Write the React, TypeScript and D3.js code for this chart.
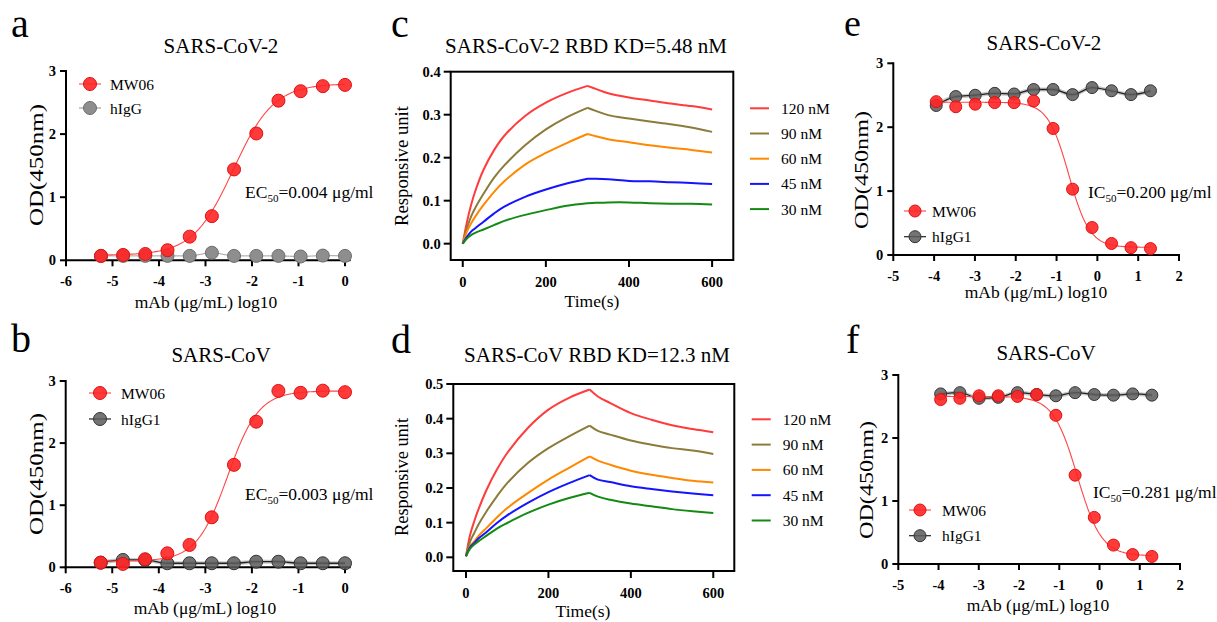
import React from 'react';
import * as d3 from 'd3';

const FONT = '"Liberation Serif", "Times New Roman", Times, serif';

// ---------- ELISA binding (a, b) ----------
const logConcAB = [-5.248, -4.771, -4.294, -3.817, -3.34, -2.863, -2.386, -1.908, -1.431, -0.954, -0.477, 0];
const aMW06 = [0.07, 0.085, 0.1, 0.16, 0.375, 0.7, 1.44, 2.01, 2.53, 2.68, 2.76, 2.78];
const aHIgG = [0.07, 0.07, 0.07, 0.07, 0.07, 0.12, 0.07, 0.07, 0.07, 0.06, 0.075, 0.07];
const bMW06 = [0.075, 0.055, 0.13, 0.225, 0.36, 0.805, 1.65, 2.345, 2.84, 2.81, 2.845, 2.82];
const bHIgG1 = [0.075, 0.118, 0.118, 0.065, 0.065, 0.065, 0.065, 0.09, 0.09, 0.065, 0.065, 0.065];
// 4PL fit parameters [bottom, top, logX50, hill]
const aFit = [0.08, 2.8, -2.4, 1.0];
const bFit = [0.1, 2.84, -2.52, 1.3];

// ---------- Competition (e, f) ----------
const logConcEF = [-3.948, -3.47, -2.993, -2.516, -2.039, -1.562, -1.085, -0.607, -0.13, 0.347, 0.824, 1.301];
const eMW06 = [2.4, 2.32, 2.36, 2.385, 2.385, 2.41, 1.98, 1.03, 0.43, 0.18, 0.115, 0.1];
const eHIgG1 = [2.34, 2.48, 2.5, 2.53, 2.52, 2.59, 2.59, 2.51, 2.62, 2.57, 2.51, 2.57];
const fMW06 = [2.61, 2.63, 2.67, 2.67, 2.66, 2.69, 2.36, 1.41, 0.74, 0.3, 0.15, 0.12];
const fHIgG1 = [2.7, 2.72, 2.63, 2.645, 2.72, 2.69, 2.67, 2.72, 2.69, 2.68, 2.7, 2.68];
const eFit = [0.12, 2.39, -0.7, 1.7];
const fFit = [0.13, 2.66, -0.551, 1.45];

const odTicks = [0, 1, 2, 3];
const abXTicks = [-6, -5, -4, -3, -2, -1, 0];
const efXTicks = [-5, -4, -3, -2, -1, 0, 1, 2];

// ---------- BLI sensorgrams (c, d) ----------
const bliTime = [0, 10, 20, 30, 50, 75, 100, 150, 200, 250, 300, 320, 350, 400, 450, 500, 550, 600];
const PEAK_INDEX = 10; // t = 300 s, switch from association to dissociation
const concLabels = ['120 nM', '90 nM', '60 nM', '45 nM', '30 nM'];
const concColors = ['#ff3b3b', '#8c7b3a', '#ff8800', '#1414ff', '#138a13'];
const c120 = [0, 0.05, 0.09, 0.122, 0.172, 0.217, 0.251, 0.297, 0.328, 0.35, 0.367, 0.36, 0.35, 0.34, 0.333, 0.326, 0.32, 0.312];
const c90 = [0, 0.036, 0.063, 0.083, 0.116, 0.153, 0.182, 0.229, 0.266, 0.294, 0.316, 0.309, 0.299, 0.291, 0.284, 0.278, 0.27, 0.26];
const c60 = [0, 0.028, 0.047, 0.063, 0.09, 0.12, 0.145, 0.184, 0.211, 0.234, 0.255, 0.25, 0.243, 0.236, 0.229, 0.223, 0.218, 0.212];
const c45 = [0, 0.016, 0.028, 0.036, 0.051, 0.07, 0.086, 0.109, 0.126, 0.14, 0.151, 0.151, 0.15, 0.146, 0.145, 0.143, 0.141, 0.139];
const c30 = [0, 0.012, 0.02, 0.025, 0.033, 0.043, 0.053, 0.067, 0.078, 0.088, 0.094, 0.095, 0.096, 0.096, 0.094, 0.093, 0.093, 0.091];
const d120 = [0.003, 0.065, 0.104, 0.1375, 0.195, 0.253, 0.301, 0.373, 0.426, 0.46, 0.484, 0.464, 0.445, 0.416, 0.397, 0.381, 0.37, 0.361];
const d90 = [0.003, 0.046, 0.07, 0.094, 0.133, 0.176, 0.214, 0.272, 0.315, 0.349, 0.38, 0.365, 0.354, 0.337, 0.325, 0.315, 0.308, 0.298];
const d60 = [0.003, 0.032, 0.046, 0.061, 0.085, 0.115, 0.142, 0.185, 0.224, 0.258, 0.291, 0.279, 0.267, 0.25, 0.238, 0.229, 0.221, 0.216];
const d45 = [0.003, 0.029, 0.041, 0.054, 0.073, 0.099, 0.121, 0.157, 0.188, 0.214, 0.237, 0.224, 0.217, 0.205, 0.197, 0.19, 0.184, 0.179];
const d30 = [0.003, 0.025, 0.037, 0.046, 0.0625, 0.083, 0.099, 0.128, 0.152, 0.171, 0.186, 0.175, 0.166, 0.155, 0.147, 0.139, 0.133, 0.128];
const cTicksY = [0, 0.1, 0.2, 0.3, 0.4];
const dTicksY = [0, 0.1, 0.2, 0.3, 0.4, 0.5];
const bliTicksX = [0, 200, 400, 600];

type Scale = d3.ScaleLinear<number, number>;

function fitPoints(p: number[], x0: number, x1: number, desc: boolean) {
  const [bottom, top, l50, hill] = p;
  const xs = d3.range(0, 201).map((i) => x0 + ((x1 - x0) * i) / 200);
  return xs.map((x) => {
    const e = desc ? (x - l50) * hill : (l50 - x) * hill;
    return [x, bottom + (top - bottom) / (1 + Math.pow(10, e))] as [number, number];
  });
}

const RED_FILL = '#ff2525';
const RED_STROKE = '#e01010';

function LAxes({ x, y, xTicks, yTicks, xEnd }: { x: Scale; y: Scale; xTicks: number[]; yTicks: number[]; xEnd: number }) {
  const x0 = x(xTicks[0]);
  const y0 = y(0);
  return (
    <g>
      <line x1={x0} x2={x(xEnd)} y1={y0} y2={y0} stroke="#000" strokeWidth={2} strokeLinecap="square" />
      <line x1={x0} x2={x0} y1={y0} y2={y(yTicks[yTicks.length - 1])} stroke="#000" strokeWidth={2} strokeLinecap="square" />
      {xTicks.map((t) => (
        <g key={'x' + t}>
          <line x1={x(t)} x2={x(t)} y1={y0} y2={y0 + 6} stroke="#000" strokeWidth={2} />
          <text x={x(t)} y={y0 + 26} textAnchor="middle" fontSize={14.5} fontWeight="bold" fontFamily={FONT}>
            {String(t)}
          </text>
        </g>
      ))}
      {yTicks.map((t) => (
        <g key={'y' + t}>
          <line x1={x0 - 6} x2={x0} y1={y(t)} y2={y(t)} stroke="#000" strokeWidth={2} />
          <text x={x0 - 10} y={y(t) + 5} textAnchor="end" fontSize={14.5} fontWeight="bold" fontFamily={FONT}>
            {String(t)}
          </text>
        </g>
      ))}
    </g>
  );
}

function Marker({ cx, cy, kind, r }: { cx: number; cy: number; kind: string; r: number }) {
  if (kind === 'red') return <circle cx={cx} cy={cy} r={r} fill={RED_FILL} fillOpacity={0.9} stroke={RED_STROKE} strokeWidth={1} />;
  if (kind === 'light') return <circle cx={cx} cy={cy} r={r} fill="#8e8e8e" stroke="#6c6c6c" strokeWidth={1} />;
  return <circle cx={cx} cy={cy} r={r} fill="#5c5c5c" fillOpacity={0.85} stroke="#333" strokeWidth={1} />;
}

function YLabel({ x, y, text, len, size }: { x: number; y: number; text: string; len: number; size: number }) {
  return (
    <text
      transform={`translate(${x},${y}) rotate(-90)`}
      textAnchor="middle"
      fontSize={size}
      fontFamily={FONT}
      textLength={len}
      lengthAdjust="spacingAndGlyphs"
    >
      {text}
    </text>
  );
}

function SubLabel({ x, y, pre, val }: { x: number; y: number; pre: string; val: string }) {
  return (
    <text x={x} y={y} fontSize={17.5} fontFamily={FONT}>
      {pre}
      <tspan fontSize={11} dy={4}>50</tspan>
      <tspan dy={-4}>{val}</tspan>
    </text>
  );
}

type DRProps = {
  x: Scale;
  y: Scale;
  xs: number[];
  red: number[];
  gray: number[];
  fit: number[];
  desc: boolean;
  grayKind: string;
  xTicks: number[];
  xEnd: number;
  r: number;
  legend: { x: number; y1: number; y2: number; text: number; gray: string };
};

function DoseResponse({ x, y, xs, red, gray, fit, desc, grayKind, xTicks, xEnd, r, legend }: DRProps) {
  const line = d3
    .line<[number, number]>()
    .x((d) => x(d[0]))
    .y((d) => y(d[1]));
  const grayLine = d3
    .line<[number, number]>()
    .x((d) => x(d[0]))
    .y((d) => y(d[1]))
    .curve(d3.curveMonotoneX);
  const grayPts = xs.map((v, i) => [v, gray[i]] as [number, number]);
  const fitPts = fitPoints(fit, xs[0], xs[xs.length - 1], desc);
  const dark = grayKind === 'dark';
  return (
    <g>
      <LAxes x={x} y={y} xTicks={xTicks} yTicks={odTicks} xEnd={xEnd} />
      {dark && <path d={grayLine(grayPts) || ''} fill="none" stroke="#9a9a9a" strokeWidth={4} strokeOpacity={0.55} />}
      <path d={grayLine(grayPts) || ''} fill="none" stroke={dark ? '#222' : '#a0a0a0'} strokeWidth={dark ? 1.3 : 1} />
      {xs.map((v, i) => (
        <Marker key={'g' + i} cx={x(v)} cy={y(gray[i])} kind={grayKind} r={r} />
      ))}
      <path d={line(fitPts) || ''} fill="none" stroke="#ff4545" strokeWidth={1.1} />
      {xs.map((v, i) => (
        <Marker key={'r' + i} cx={x(v)} cy={y(red[i])} kind="red" r={r} />
      ))}
      {/* legend */}
      <line x1={legend.x - 11} x2={legend.x + 11} y1={legend.y1} y2={legend.y1} stroke="#ff4545" strokeWidth={1.1} />
      <Marker cx={legend.x} cy={legend.y1} kind="red" r={r} />
      <text x={legend.text} y={legend.y1 + 5.5} fontSize={15.5} fontFamily={FONT}>
        MW06
      </text>
      <line x1={legend.x - 11} x2={legend.x + 11} y1={legend.y2} y2={legend.y2} stroke={dark ? '#222' : '#a0a0a0'} strokeWidth={1.2} />
      <Marker cx={legend.x} cy={legend.y2} kind={grayKind} r={r} />
      <text x={legend.text} y={legend.y2 + 5.5} fontSize={15.5} fontFamily={FONT}>
        {legend.gray}
      </text>
    </g>
  );
}

type BLIProps = {
  x: Scale;
  y: Scale;
  series: number[][];
  yTicks: number[];
  legX: number;
  legY: number;
  legStep: number;
};

function Sensorgram({ x, y, series, yTicks, legX, legY, legStep }: BLIProps) {
  const [xa, xb] = x.domain();
  const [ya, yb] = y.domain();
  const line = d3
    .line<[number, number]>()
    .x((d) => x(d[0]))
    .y((d) => y(d[1]))
    .curve(d3.curveCatmullRom.alpha(0.5));
  const fx0 = x(xa);
  const fx1 = x(xb);
  const fy0 = y(yb);
  const fy1 = y(ya);
  return (
    <g>
      {series.map((s, k) => {
        const pts = s.map((v, i) => [bliTime[i], v] as [number, number]);
        const assoc = pts.slice(0, PEAK_INDEX + 1);
        const dissoc = pts.slice(PEAK_INDEX);
        const d = (line(assoc) || '') + (line(dissoc) || '');
        return <path key={k} d={d} fill="none" stroke={concColors[k]} strokeWidth={2} strokeLinejoin="round" />;
      })}
      <rect x={fx0} y={fy0} width={fx1 - fx0} height={fy1 - fy0} fill="none" stroke="#000" strokeWidth={2} />
      {yTicks.map((t) => (
        <g key={'y' + t}>
          <line x1={fx0 - 7} x2={fx0} y1={y(t)} y2={y(t)} stroke="#000" strokeWidth={2} />
          <text x={fx0 - 10} y={y(t) + 5} textAnchor="end" fontSize={14.5} fontWeight="bold" fontFamily={FONT}>
            {d3.format('.1f')(t)}
          </text>
        </g>
      ))}
      {bliTicksX.map((t) => (
        <g key={'x' + t}>
          <line x1={x(t)} x2={x(t)} y1={fy1} y2={fy1 + 7} stroke="#000" strokeWidth={2} />
          <text x={x(t)} y={fy1 + 26.5} textAnchor="middle" fontSize={14.5} fontWeight="bold" fontFamily={FONT}>
            {String(t)}
          </text>
        </g>
      ))}
      {concLabels.map((lab, k) => (
        <g key={lab}>
          <line x1={legX} x2={legX + 19} y1={legY + k * legStep} y2={legY + k * legStep} stroke={concColors[k]} strokeWidth={2} />
          <text x={legX + 31} y={legY + k * legStep + 5.5} fontSize={15.5} fontFamily={FONT}>
            {lab}
          </text>
        </g>
      ))}
    </g>
  );
}

export default function App() {
  const xA = d3.scaleLinear().domain([-6, 0]).range([66, 345]);
  const yA = d3.scaleLinear().domain([0, 3]).range([260.3, 71]);
  const xB = d3.scaleLinear().domain([-6, 0]).range([65.7, 345]);
  const yB = d3.scaleLinear().domain([0, 3]).range([567.3, 381]);
  const xE = d3.scaleLinear().domain([-5, 2]).range([893.3, 1179]);
  const yE = d3.scaleLinear().domain([0, 3]).range([255, 63.3]);
  const xF = d3.scaleLinear().domain([-5, 2]).range([898.3, 1180]);
  const yF = d3.scaleLinear().domain([0, 3]).range([564, 375]);
  const xC = d3.scaleLinear().domain([-29, 651]).range([450.7, 733.3]);
  const yC = d3.scaleLinear().domain([-0.038, 0.4]).range([260, 71.7]);
  const xD = d3.scaleLinear().domain([-30.8, 651]).range([453.3, 734.3]);
  const yD = d3.scaleLinear().domain([-0.0395, 0.5]).range([571, 384]);

  const title = (x: number, y: number, t: string) => (
    <text x={x} y={y} textAnchor="middle" fontSize={21} fontFamily={FONT}>
      {t}
    </text>
  );
  const xlabel = (x: number, y: number, t: string) => (
    <text x={x} y={y} textAnchor="middle" fontSize={17.5} fontFamily={FONT}>
      {t}
    </text>
  );
  const letter = (x: number, y: number, t: string, s = 40) => (
    <text x={x} y={y} fontSize={s} fontFamily={FONT}>
      {t}
    </text>
  );

  return (
    <svg
      width={1217}
      height={622}
      viewBox="0 0 1217 622"
      style={{ position: 'absolute', left: 0, top: 0, display: 'block', background: '#fff' }}
    >
      <rect x={0} y={0} width={1217} height={622} fill="#fff" />
      {/* panel letters */}
      {letter(11, 37, 'a')}
      {letter(11, 352, 'b')}
      {letter(391, 37, 'c')}
      {letter(391, 353, 'd')}
      {letter(844, 36, 'e', 38)}
      {letter(846, 353, 'f')}

      {/* a */}
      {title(221, 53, 'SARS-CoV-2')}
      <YLabel x={43} y={165} text="OD(450nm)" len={122} size={18} />
      {xlabel(206, 308, 'mAb (μg/mL) log10')}
      <DoseResponse
        x={xA}
        y={yA}
        xs={logConcAB}
        red={aMW06}
        gray={aHIgG}
        fit={aFit}
        desc={false}
        grayKind="light"
        xTicks={abXTicks}
        xEnd={0.1}
        r={6.5}
        legend={{ x: 90, y1: 84, y2: 108, text: 110, gray: 'hIgG' }}
      />
      <SubLabel x={245} y={198} pre="EC" val="=0.004 μg/ml" />

      {/* b */}
      {title(221, 362, 'SARS-CoV')}
      <YLabel x={43} y={474} text="OD(450nm)" len={122} size={18} />
      {xlabel(205, 614, 'mAb (μg/mL) log10')}
      <DoseResponse
        x={xB}
        y={yB}
        xs={logConcAB}
        red={bMW06}
        gray={bHIgG1}
        fit={bFit}
        desc={false}
        grayKind="dark"
        xTicks={abXTicks}
        xEnd={0.1}
        r={6.5}
        legend={{ x: 100, y1: 393, y2: 419, text: 121, gray: 'hIgG1' }}
      />
      <SubLabel x={245} y={500} pre="EC" val="=0.003 μg/ml" />

      {/* c */}
      {title(586, 53, 'SARS-CoV-2 RBD KD=5.48 nM')}
      <YLabel x={408} y={166} text="Responsive unit" len={120} size={18} />
      {xlabel(592, 307, 'Time(s)')}
      <Sensorgram x={xC} y={yC} series={[c120, c90, c60, c45, c30]} yTicks={cTicksY} legX={750} legY={108.3} legStep={25.2} />

      {/* d */}
      {title(597, 362, 'SARS-CoV RBD KD=12.3 nM')}
      <YLabel x={408} y={477} text="Responsive unit" len={118} size={18} />
      {xlabel(583, 617, 'Time(s)')}
      <Sensorgram x={xD} y={yD} series={[d120, d90, d60, d45, d30]} yTicks={dTicksY} legX={751.7} legY={419.3} legStep={25.3} />

      {/* e */}
      {title(1044, 50, 'SARS-CoV-2')}
      <YLabel x={868} y={170} text="OD(450nm)" len={118} size={18} />
      {xlabel(1036, 298, 'mAb (μg/mL) log10')}
      <DoseResponse
        x={xE}
        y={yE}
        xs={logConcEF}
        red={eMW06}
        gray={eHIgG1}
        fit={eFit}
        desc={true}
        grayKind="dark"
        xTicks={efXTicks}
        xEnd={2}
        r={6}
        legend={{ x: 915, y1: 211, y2: 236.7, text: 932, gray: 'hIgG1' }}
      />
      <SubLabel x={1088} y={198} pre="IC" val="=0.200 μg/ml" />

      {/* f */}
      {title(1046, 360, 'SARS-CoV')}
      <YLabel x={873} y={480} text="OD(450nm)" len={118} size={18} />
      {xlabel(1038, 611, 'mAb (μg/mL) log10')}
      <DoseResponse
        x={xF}
        y={yF}
        xs={logConcEF}
        red={fMW06}
        gray={fHIgG1}
        fit={fFit}
        desc={true}
        grayKind="dark"
        xTicks={efXTicks}
        xEnd={2}
        r={6}
        legend={{ x: 920, y1: 510, y2: 535.7, text: 942, gray: 'hIgG1' }}
      />
      <SubLabel x={1093} y={498} pre="IC" val="=0.281 μg/ml" />
    </svg>
  );
}
